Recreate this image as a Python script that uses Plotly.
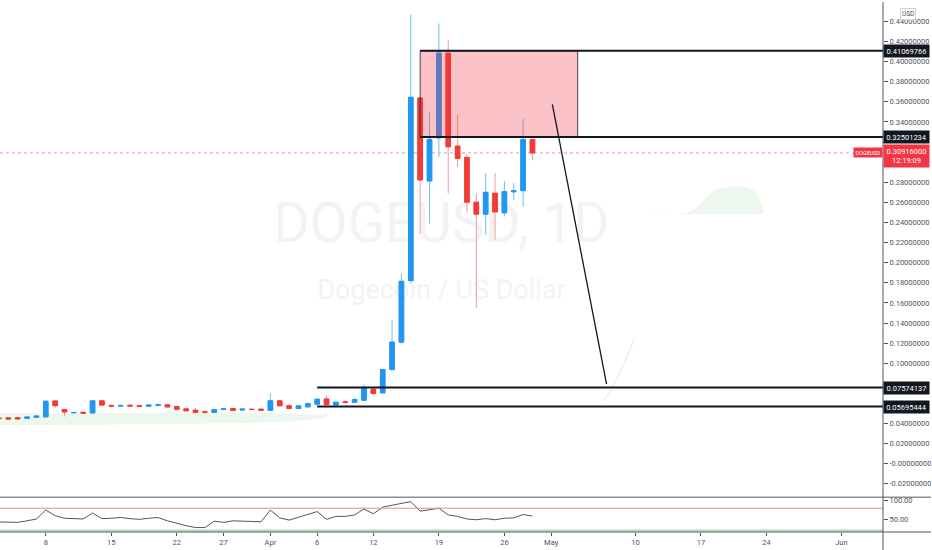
import plotly.graph_objects as go
import pandas as pd

# ---------------- data ----------------
dates = pd.date_range("2021-03-03", "2021-04-29", freq="D")

opens = [0.0455, 0.0457, 0.0459, 0.0450, 0.0462, 0.0467, 0.0625, 0.0540, 0.0508, 0.0512,
         0.0505, 0.0626, 0.0580, 0.0574, 0.0582, 0.0578, 0.0572, 0.0580, 0.0586, 0.0570,
         0.0546, 0.0533, 0.0518, 0.0511, 0.0540, 0.0550, 0.0535, 0.0542, 0.0543,
         0.0531, 0.0626, 0.0577, 0.0550, 0.0566, 0.0593, 0.0645, 0.0585, 0.0616, 0.0612,
         0.0632, 0.0741, 0.0705, 0.0937, 0.1210, 0.1822, 0.3638, 0.2813, 0.3242, 0.4084,
         0.3160, 0.3047, 0.2602, 0.2483, 0.2691, 0.2496, 0.2705, 0.2717, 0.3226]
highs = [0.0462, 0.0465, 0.0466, 0.0472, 0.0478, 0.0628, 0.0630, 0.0545, 0.0520, 0.0520,
         0.0630, 0.0632, 0.0590, 0.0588, 0.0590, 0.0586, 0.0590, 0.0600, 0.0590, 0.0575,
         0.0550, 0.0556, 0.0530, 0.0545, 0.0552, 0.0555, 0.0548, 0.0552, 0.0548,
         0.0700, 0.0630, 0.0592, 0.0580, 0.0605, 0.0650, 0.0679, 0.0616, 0.0630, 0.0660,
         0.0790, 0.0754, 0.0942, 0.1435, 0.1888, 0.4465, 0.3645, 0.3506, 0.4380, 0.4217,
         0.3474, 0.3077, 0.2687, 0.2889, 0.2889, 0.2813, 0.2790, 0.3430, 0.3230]
lows = [0.0445, 0.0440, 0.0440, 0.0445, 0.0455, 0.0460, 0.0556, 0.0470, 0.0498, 0.0495,
        0.0500, 0.0575, 0.0560, 0.0565, 0.0568, 0.0565, 0.0566, 0.0572, 0.0560, 0.0535,
        0.0520, 0.0500, 0.0495, 0.0508, 0.0535, 0.0525, 0.0528, 0.0530, 0.0528,
        0.0528, 0.0572, 0.0545, 0.0545, 0.0560, 0.0588, 0.0575, 0.0578, 0.0598, 0.0608,
        0.0630, 0.0682, 0.0700, 0.0930, 0.1194, 0.1790, 0.2287, 0.2390, 0.3054, 0.2687,
        0.2954, 0.2499, 0.1551, 0.2275, 0.2231, 0.2459, 0.2624, 0.2558, 0.3018]
closes = [0.0450, 0.0445, 0.0446, 0.0466, 0.0474, 0.0622, 0.0578, 0.0515, 0.0510, 0.0503,
          0.0626, 0.0584, 0.0574, 0.0580, 0.0575, 0.0572, 0.0584, 0.0586, 0.0565, 0.0542,
          0.0527, 0.0511, 0.0514, 0.0540, 0.0546, 0.0531, 0.0543, 0.0540, 0.0533,
          0.0626, 0.0577, 0.0550, 0.0576, 0.0600, 0.0642, 0.0590, 0.0612, 0.0612, 0.0639,
          0.0751, 0.0699, 0.0937, 0.1210, 0.1815, 0.3645, 0.2823, 0.3226, 0.4084, 0.3153,
          0.3037, 0.2602, 0.2483, 0.2700, 0.2505, 0.2707, 0.2715, 0.3226, 0.3092]

rsi = [43, 43, 42, 46, 51, 75, 60, 53, 52, 51, 67, 52, 53, 55, 52, 50, 53, 55, 46, 39,
       33, 28, 28, 45, 42, 46, 45, 44, 43.5,
       75, 54, 48, 55, 62, 71, 50, 58, 58, 62, 78, 65, 83, 88, 94, 98, 72, 76, 80, 62,
       58, 51, 49, 52, 49, 53, 54, 63, 59]

# faint cloud areas
cloud1_dates = ["2021-03-03", "2021-03-15", "2021-03-25", "2021-04-03", "2021-04-07"]
cloud1_upper = [0.0505, 0.0505, 0.0510, 0.0500, 0.0480]
cloud1_lower = [0.0385, 0.0390, 0.0400, 0.0420, 0.0460]
cloud2_dates = ["2021-05-10T18:00", "2021-05-16T00:00", "2021-05-18T15:00", "2021-05-22T12:00", "2021-05-23T18:00"]
cloud2_upper = [0.2485, 0.2512, 0.2727, 0.2727, 0.2485]
cloud2_lower = [0.2482, 0.2482, 0.2482, 0.2482, 0.2482]
span_dates = ["2021-05-06T16:00", "2021-05-08T08:00", "2021-05-09T22:00"]
span_values = [0.063, 0.0907, 0.1254]

# drawings
box_dates = ["2021-04-17", "2021-05-03T20:00"]
box_levels = [0.32501234, 0.41069766]
support_start = "2021-04-06"
support_levels = [0.05695444, 0.07574137]
arrow_dates = ["2021-05-01T03:00", "2021-05-06T22:00"]
arrow_values = [0.3575, 0.0791]
last_price = 0.30916
rsi_levels = [80, 20]

x_range = ["2021-03-03T02:40", "2021-06-05T10:50"]
x_tick_vals = ["2021-03-08", "2021-03-15", "2021-03-22", "2021-03-27", "2021-04-01", "2021-04-06",
               "2021-04-12", "2021-04-19", "2021-04-26", "2021-05-01", "2021-05-10", "2021-05-17",
               "2021-05-24", "2021-06-01"]
x_tick_text = ["8", "15", "22", "27", "Apr", "6", "12", "19", "26", "May", "10", "17", "24", "Jun"]

# labels hidden behind the price tags in the original are left blank
y_tick_vals = [-0.02, 0.0, 0.02, 0.04, 0.06, 0.08, 0.10, 0.12, 0.14, 0.16, 0.18, 0.20, 0.22,
               0.24, 0.26, 0.28, 0.30, 0.32, 0.34, 0.36, 0.38, 0.40, 0.42, 0.44, 0.46]
y_tick_text = ["-0.02000000", "-0.00000000", "0.02000000", "0.04000000", "",
               "", "0.10000000", "0.12000000", "0.14000000", "0.16000000",
               "0.18000000", "0.20000000", "0.22000000", "0.24000000", "0.26000000",
               "0.28000000", "", "", "0.34000000", "0.36000000",
               "0.38000000", "0.40000000", "0.42000000", "0.44000000", "0.46000000"]
rsi_tick_vals = [50, 100]
rsi_tick_text = ["50.00", "100.00"]

# ---------------- styling ----------------
UP = "#2196f3"
DOWN = "#f23b33"
UP_WICK = "#6cc3ec"
DOWN_WICK = "#f39a96"
AXIS = "#50535e"
TXT = "#50535e"
FONT = "Roboto"

body_high = [max(o, c) for o, c in zip(opens, closes)]
body_low = [min(o, c) for o, c in zip(opens, closes)]

fig = go.Figure()

# wicks
fig.add_trace(go.Candlestick(
    x=dates, open=opens, high=highs, low=lows, close=closes,
    increasing=dict(line=dict(color=UP_WICK, width=1), fillcolor=UP_WICK),
    decreasing=dict(line=dict(color=DOWN_WICK, width=1), fillcolor=DOWN_WICK),
    whiskerwidth=0, showlegend=False, hoverinfo="skip", xaxis="x", yaxis="y"))
# bodies
fig.add_trace(go.Candlestick(
    x=dates, open=opens, high=body_high, low=body_low, close=closes,
    increasing=dict(line=dict(color=UP, width=1), fillcolor=UP),
    decreasing=dict(line=dict(color=DOWN, width=1), fillcolor=DOWN),
    whiskerwidth=0, showlegend=False, hoverinfo="skip", xaxis="x", yaxis="y"))

# faint clouds
green_fill = "rgba(76,175,80,0.10)"
for cd, cu, cl in [(cloud1_dates, cloud1_upper, cloud1_lower), (cloud2_dates, cloud2_upper, cloud2_lower)]:
    fig.add_trace(go.Scatter(x=cd, y=cl, mode="lines", line=dict(width=0, shape="spline"),
                             showlegend=False, hoverinfo="skip", xaxis="x", yaxis="y"))
    fig.add_trace(go.Scatter(x=cd, y=cu, mode="lines", line=dict(width=0, shape="spline"),
                             fill="tonexty", fillcolor=green_fill,
                             showlegend=False, hoverinfo="skip", xaxis="x", yaxis="y"))
fig.add_trace(go.Scatter(x=span_dates, y=span_values, mode="lines",
                         line=dict(width=1.5, color="rgba(76,175,80,0.12)", shape="spline"),
                         showlegend=False, hoverinfo="skip", xaxis="x", yaxis="y"))

# RSI
fig.add_trace(go.Scatter(x=dates, y=rsi, mode="lines", line=dict(color="#555555", width=1),
                         showlegend=False, hoverinfo="skip", xaxis="x", yaxis="y2"))

shapes = []
# watermark (below traces) using shape labels
shapes.append(dict(type="rect", xref="paper", yref="paper", x0=0.25, x1=0.75, y0=0.55, y1=0.63,
                   line=dict(width=0), fillcolor="rgba(0,0,0,0)", layer="below",
                   label=dict(text="DOGEUSD, 1D", textposition="middle center",
                              font=dict(family=FONT, size=55, color="#f3f3f4"))))
shapes.append(dict(type="rect", xref="paper", yref="paper", x0=0.25, x1=0.75, y0=0.43, y1=0.49,
                   line=dict(width=0), fillcolor="rgba(0,0,0,0)", layer="below",
                   label=dict(text="Dogecoin / US Dollar", textposition="middle center",
                              font=dict(family=FONT, size=27, color="#f3f3f4"))))

# last price dotted line
shapes.append(dict(type="line", xref="x", yref="y", x0=x_range[0], x1=x_range[1],
                   y0=last_price, y1=last_price, line=dict(color="rgba(242,54,69,0.55)", width=1, dash="dot"),
                   layer="below"))
# supply box
shapes.append(dict(type="rect", xref="x", yref="y", x0=box_dates[0], x1=box_dates[1],
                   y0=box_levels[0], y1=box_levels[1], fillcolor="rgba(242,54,69,0.3)",
                   line=dict(color="rgba(40,40,40,0.85)", width=1), layer="above"))
for lv in box_levels:
    shapes.append(dict(type="line", xref="x", yref="y", x0=box_dates[0], x1=x_range[1],
                       y0=lv, y1=lv, line=dict(color="#131722", width=2), layer="above"))
for lv in support_levels:
    shapes.append(dict(type="line", xref="x", yref="y", x0=support_start, x1=x_range[1],
                       y0=lv, y1=lv, line=dict(color="#131722", width=2), layer="above"))
shapes.append(dict(type="line", xref="x", yref="y", x0=arrow_dates[0], x1=arrow_dates[1],
                   y0=arrow_values[0], y1=arrow_values[1], line=dict(color="#131722", width=1.3),
                   layer="above"))
# rsi levels
shapes.append(dict(type="line", xref="x", yref="y2", x0=x_range[0], x1=x_range[1],
                   y0=rsi_levels[0], y1=rsi_levels[0], line=dict(color="#f08a86", width=1)))
shapes.append(dict(type="line", xref="x", yref="y2", x0=x_range[0], x1=x_range[1],
                   y0=rsi_levels[1], y1=rsi_levels[1], line=dict(color="#b5dcb6", width=2)))

# frame lines
H = 532.0
right_ext = 932 / 884.0
shapes.append(dict(type="line", xref="paper", yref="paper", x0=0, x1=right_ext,
                   y0=(H - 497) / H, y1=(H - 497) / H, line=dict(color="#8a8d96", width=1.5)))
shapes.append(dict(type="line", xref="paper", yref="paper", x0=0, x1=right_ext,
                   y0=0, y1=0, line=dict(color=AXIS, width=1)))
shapes.append(dict(type="line", xref="paper", yref="paper", x0=1, x1=1,
                   y0=-18 / H, y1=1, line=dict(color=AXIS, width=1)))

annotations = []
def tag(y, text, bg, yshift=0):
    annotations.append(dict(xref="paper", yref="y", x=1, y=y, xanchor="left", yanchor="middle",
                            text=text, showarrow=False, bgcolor=bg, borderpad=1.5, width=42,
                            align="center", yshift=yshift,
                            font=dict(family=FONT, size=7.5, color="white")))

tag(box_levels[1], "0.41069766", "#131722")
tag(box_levels[0], "0.32501234", "#131722")
tag(support_levels[1], "0.07574137", "#131722")
tag(support_levels[0], "0.05695444", "#131722")
tag(last_price, "0.30916000<br>12:19:09", "#f23645", yshift=-3.5)
annotations.append(dict(xref="paper", yref="y", x=1, y=last_price, xanchor="right", yanchor="middle",
                        text="DOGEUSD", showarrow=False, bgcolor="#f23645", borderpad=1.5,
                        font=dict(family=FONT, size=5.5, color="white")))
annotations.append(dict(xref="paper", yref="paper", x=1, y=(H - 12) / H, xanchor="left", yanchor="middle",
                        xshift=17, text="USD", showarrow=False, bordercolor="#d1d4dc", borderwidth=1,
                        borderpad=1, font=dict(family=FONT, size=6.5, color=TXT)))

fig.update_layout(
    width=932, height=550,
    margin=dict(l=0, r=48, t=0, b=18),
    paper_bgcolor="white", plot_bgcolor="white",
    showlegend=False,
    shapes=shapes, annotations=annotations,
    xaxis=dict(type="date", range=x_range, domain=[0, 1], anchor="y2",
               tickvals=x_tick_vals, ticktext=x_tick_text, ticks="outside", ticklen=3,
               tickcolor=AXIS, showgrid=False, zeroline=False, showline=False,
               tickfont=dict(family=FONT, size=7.5, color=TXT),
               rangeslider=dict(visible=False), fixedrange=True),
    yaxis=dict(domain=[(H - 496) / H, 1], range=[-0.0322, 0.4593], side="right", anchor="x",
               tickvals=y_tick_vals, ticktext=y_tick_text, ticks="outside", ticklen=4,
               tickcolor=AXIS, showgrid=False, zeroline=False, showline=False,
               tickfont=dict(family=FONT, size=7.5, color=TXT)),
    yaxis2=dict(domain=[0, (H - 498) / H], range=[16, 107.2], side="right", anchor="x",
                tickvals=rsi_tick_vals, ticktext=rsi_tick_text, ticks="outside", ticklen=4,
                tickcolor=AXIS, showgrid=False, zeroline=False, showline=False,
                tickfont=dict(family=FONT, size=7.5, color=TXT)),
)

fig.write_html("out.html", config={"displayModeBar": False},
               post_script="document.body.style.margin='0';document.body.style.padding='0';")
